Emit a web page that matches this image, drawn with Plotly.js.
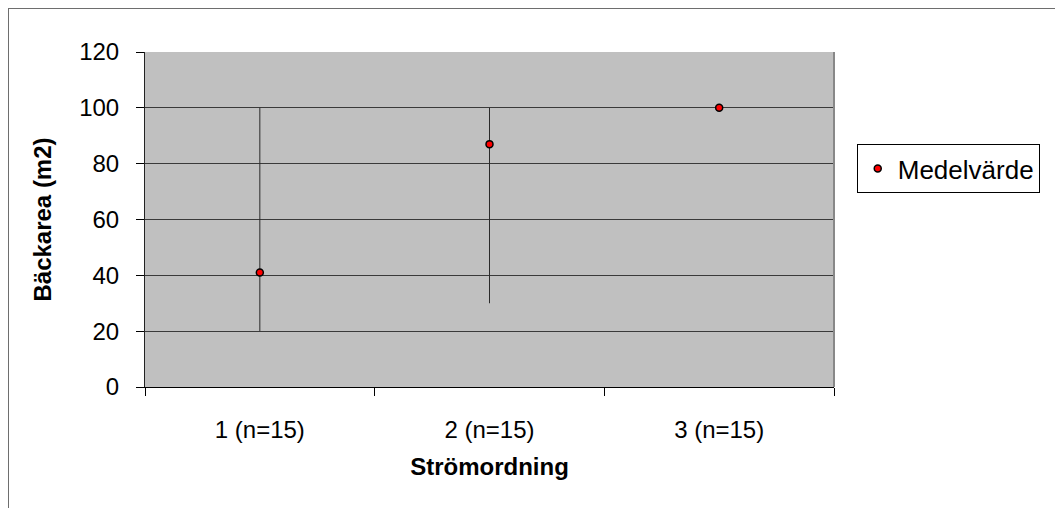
<!DOCTYPE html>
<html>
<head>
<meta charset="utf-8">
<script src="https://cdn.plot.ly/plotly-3.0.1.min.js"></script>
<style>
  html, body { margin: 0; padding: 0; background: #fff; }
  #wrap { position: relative; width: 1055px; height: 508px; overflow: hidden; }
  #chart { width: 1055px; height: 508px; }
  #frame { position: absolute; left: 8px; top: 8px; width: 1100px; height: 600px;
           border-left: 1px solid #6e6e6e; border-top: 1px solid #6e6e6e; pointer-events: none; }
</style>
</head>
<body>
<div id="wrap">
  <div id="chart"></div>
  <div id="frame"></div>
</div>
<script>
const categories = ["1 (n=15)", "2 (n=15)", "3 (n=15)"];
const meanValues = [41, 87, 100];
const maxValues = [100, 100, 100];
const minValues = [20, 30, 100];
const seriesName = "Medelvärde";
const yTitle = "Bäckarea (m2)";
const xTitle = "Strömordning";

const errPlus = meanValues.map((m, i) => maxValues[i] - m);
const errMinus = meanValues.map((m, i) => m - minValues[i]);

const FONT = "'Liberation Sans', Arial, sans-serif";

const trace = {
  type: "scatter",
  mode: "markers",
  x: categories,
  y: meanValues,
  name: seriesName,
  showlegend: true,
  marker: { color: "#ff0000", size: 7, line: { color: "#000000", width: 1.5 } },
  error_y: {
    type: "data", symmetric: false,
    array: errPlus, arrayminus: errMinus,
    color: "#2a2a2a", thickness: 1, width: 0
  }
};

const layout = {
  width: 1055, height: 508,
  margin: { l: 145, r: 221, t: 52, b: 121, pad: 0 },
  paper_bgcolor: "#ffffff",
  plot_bgcolor: "#c0c0c0",
  font: { family: FONT, size: 24, color: "#000" },
  showlegend: true,
  legend: {
    x: 1.033, y: 0.725, xanchor: "left", yanchor: "top",
    bordercolor: "#000", borderwidth: 1, bgcolor: "#fff",
    itemwidth: 30, tracegroupgap: 0,
    font: { family: FONT, size: 26, color: "#000" }
  },
  xaxis: {
    type: "category", range: [-0.5, 2.5],
    showgrid: false, zeroline: false,
    showline: true, linecolor: "#000", linewidth: 1,
    ticks: "outside", tickson: "boundaries", ticklen: 8, tickcolor: "#000",
    ticklabelstandoff: 21,
    tickfont: { family: FONT, size: 24 },
    title: { text: xTitle, font: { family: FONT, size: 24, weight: "bold" }, standoff: 16 }
  },
  yaxis: {
    range: [0, 120], dtick: 20, tick0: 0,
    showgrid: true, gridcolor: "#3a3a3a", gridwidth: 1,
    zeroline: false,
    showline: true, linecolor: "#222", linewidth: 1,
    ticks: "outside", ticklen: 8, tickcolor: "#000",
    ticklabelstandoff: 12,
    tickfont: { family: FONT, size: 24 },
    title: { text: yTitle, font: { family: FONT, size: 24, weight: "bold" }, standoff: 20 }
  },
  shapes: [
    { type: "line", xref: "paper", yref: "paper", x0: 1, x1: 1, y0: 0, y1: 1,
      line: { color: "#888888", width: 2 } }
  ]
};

Plotly.newPlot("chart", [trace], layout, { displayModeBar: false, staticPlot: true });
</script>
</body>
</html>
